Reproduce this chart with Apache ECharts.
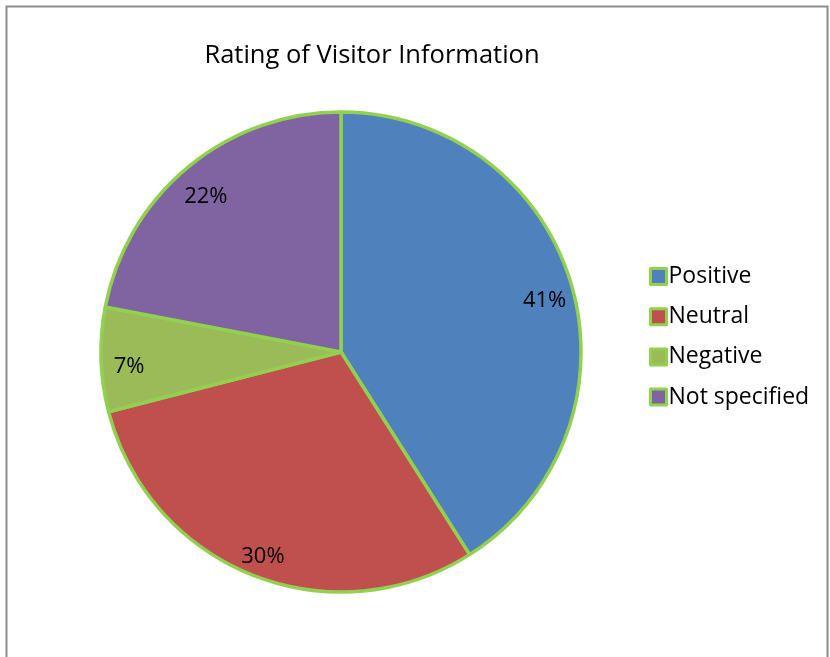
<!DOCTYPE html>
<html>
<head>
<meta charset="utf-8">
<script src="https://cdn.jsdelivr.net/npm/echarts@6/dist/echarts.min.js"></script>
<style>
  html, body { margin: 0; padding: 0; background: #fff; }
  #chart { width: 830px; height: 657px; }
</style>
</head>
<body>
<div id="chart"></div>
<script>
// Survey answers on the visitor information rating
const categories = ['Positive', 'Neutral', 'Negative', 'Not specified'];
const shares = [41, 30, 7, 22];
const sliceColors = ['#4F81BD', '#C0504D', '#9BBB59', '#8064A2'];

const edgeGreen = '#92D050';
const fontFamily = '"Open Sans", "Noto Sans", "Liberation Sans", sans-serif';

const pieData = categories.map((name, i) => ({
  name,
  value: shares[i],
  itemStyle: { color: sliceColors[i] }
}));

const chart = echarts.init(document.getElementById('chart'), null, { renderer: 'canvas' });

chart.setOption({
  animation: false,
  backgroundColor: '#ffffff',
  title: {
    text: 'Rating of Visitor Information',
    left: 367,
    top: 38,
    textAlign: 'center',
    textStyle: { fontFamily, fontSize: 25.5, fontWeight: 'normal', color: '#000' }
  },
  legend: {
    orient: 'vertical',
    left: 644,
    top: 260,
    itemWidth: 16,
    itemHeight: 16,
    itemGap: 17.2,
    icon: 'rect',
    data: categories,
    itemStyle: { borderColor: edgeGreen, borderWidth: 3 },
    textStyle: { fontFamily, fontSize: 23, lineHeight: 16, color: '#000', padding: [0, 0, 0, -3] }
  },
  graphic: [{
    type: 'rect',
    shape: { x: 6.5, y: 6.5, width: 821, height: 700 },
    style: { fill: 'none', stroke: '#8c8c8c', lineWidth: 2 },
    silent: true
  }],
  series: [
    {
      type: 'pie',
      center: [341, 352],
      radius: [0, 240],
      startAngle: 90,
      clockwise: true,
      data: pieData,
      label: { show: false },
      labelLine: { show: false },
      itemStyle: { borderColor: edgeGreen, borderWidth: 3.5 },
      emphasis: { disabled: true }
    },
    {
      // ring carrying the percentage labels near the rim
      type: 'pie',
      center: [341, 352],
      radius: [178, 240],
      startAngle: 90,
      clockwise: true,
      silent: true,
      legendHoverLink: false,
      data: categories.map((name, i) => ({ name, value: shares[i] })),
      itemStyle: { color: 'rgba(0,0,0,0)', borderWidth: 0 },
      label: {
        show: true,
        position: 'inside',
        formatter: '{c}%',
        fontFamily,
        fontSize: 22,
        color: '#000',
        offset: [0, 8]
      },
      labelLine: { show: false },
      emphasis: { disabled: true }
    }
  ]
});
</script>
</body>
</html>
